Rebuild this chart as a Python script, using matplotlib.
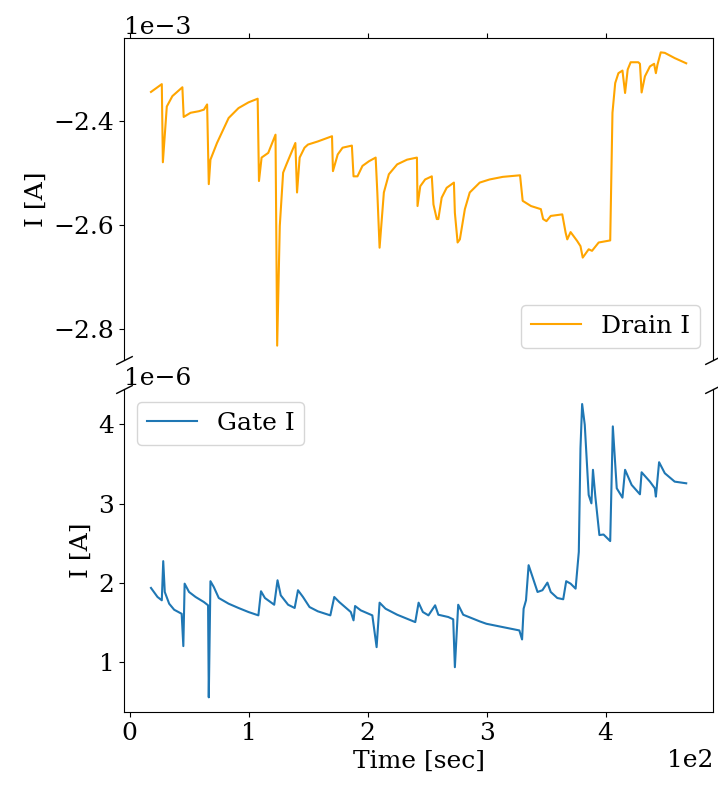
import numpy as np
import matplotlib
matplotlib.use("Agg")
from matplotlib import pyplot as plt

# drain current, in mA
drain_t = [17.8, 26.9, 27.8, 31.1, 35.8, 44.2, 45.3, 51.1, 58.1, 62.3, 65.0, 66.4, 67.8, 73.3,
           83.1, 91.4, 99.8, 107.5, 108.6, 110.8, 116.4, 122.5, 123.9, 126.1, 128.9, 131.7,
           139.2, 140.6, 142.8, 146.9, 149.8, 158.1, 170.0, 170.8, 174.8, 178.9, 186.7, 188.1,
           191.4, 195.6, 201.1, 206.7, 208.1, 210.0, 213.6, 217.8, 224.8, 233.1, 241.4, 241.9,
           244.2, 248.3, 253.9, 255.3, 258.1, 259.4, 262.2, 266.4, 272.5, 273.3, 275.6, 277.5,
           281.7, 285.8, 294.2, 302.5, 313.6, 328.1, 330.3, 337.3, 345.6, 347.5, 350.3, 353.9,
           363.6, 366.4, 367.8, 370.6, 376.1, 378.9, 380.8, 385.8, 388.6, 394.2, 403.9, 405.8,
           408.1, 410.8, 414.2, 416.4, 418.6, 421.1, 427.5, 428.9, 430.3, 433.1, 437.3, 440.8,
           442.3, 443.6, 446.4, 449.8, 458.1, 467.8]
drain_i = [-2.345, -2.330, -2.480, -2.373, -2.353, -2.336, -2.393, -2.385, -2.382, -2.379,
           -2.369, -2.522, -2.475, -2.443, -2.395, -2.376, -2.365, -2.358, -2.516, -2.471,
           -2.462, -2.427, -2.832, -2.602, -2.500, -2.484, -2.443, -2.538, -2.471, -2.452,
           -2.446, -2.440, -2.430, -2.497, -2.465, -2.452, -2.448, -2.507, -2.507, -2.487,
           -2.478, -2.471, -2.538, -2.644, -2.538, -2.503, -2.484, -2.475, -2.471, -2.564,
           -2.526, -2.513, -2.507, -2.561, -2.589, -2.589, -2.548, -2.529, -2.519, -2.577,
           -2.634, -2.628, -2.570, -2.538, -2.519, -2.513, -2.508, -2.505, -2.554, -2.564,
           -2.570, -2.589, -2.593, -2.583, -2.580, -2.615, -2.628, -2.614, -2.631, -2.641,
           -2.663, -2.647, -2.650, -2.634, -2.630, -2.385, -2.328, -2.309, -2.304, -2.347,
           -2.302, -2.288, -2.288, -2.291, -2.346, -2.315, -2.296, -2.291, -2.309, -2.293,
           -2.269, -2.270, -2.280, -2.290]

# gate current, in uA
gate_t = [17.8, 23.3, 26.9, 28.1, 29.4, 33.1, 37.3, 43.6, 45.0, 46.1, 49.8, 55.3, 62.3, 65.8,
          66.4, 67.8, 70.6, 74.8, 83.1, 91.4, 99.8, 108.1, 110.3, 113.6, 121.4, 124.2, 126.9,
          133.1, 138.6, 141.4, 145.6, 151.1, 158.1, 168.6, 171.9, 176.1, 185.8, 188.1, 189.4,
          194.2, 203.9, 207.5, 210.0, 215.0, 224.8, 240.0, 242.8, 246.4, 251.1, 256.7, 259.4,
          267.8, 271.9, 273.3, 276.1, 280.3, 294.2, 299.8, 313.6, 327.5, 329.8, 331.1, 333.1,
          335.3, 338.6, 342.8, 346.9, 351.1, 353.9, 359.4, 364.4, 366.9, 370.6, 374.8, 377.5,
          378.9, 380.3, 382.5, 385.8, 388.1, 389.4, 391.4, 394.8, 398.3, 403.9, 406.1, 409.4,
          414.2, 416.4, 421.9, 428.9, 430.3, 437.3, 441.4, 442.3, 445.0, 449.8, 458.1, 467.8]
gate_i = [1.937, 1.823, 1.781, 2.275, 1.886, 1.738, 1.662, 1.611, 1.203, 1.991, 1.886, 1.823,
          1.759, 1.718, 0.557, 2.022, 1.949, 1.810, 1.738, 1.684, 1.633, 1.591, 1.895, 1.810,
          1.725, 2.034, 1.844, 1.725, 1.684, 1.908, 1.823, 1.696, 1.642, 1.591, 1.823, 1.759,
          1.633, 1.528, 1.709, 1.654, 1.591, 1.190, 1.751, 1.675, 1.599, 1.506, 1.751, 1.633,
          1.591, 1.718, 1.599, 1.570, 1.541, 0.937, 1.725, 1.599, 1.515, 1.485, 1.443, 1.401,
          1.287, 1.675, 1.781, 2.224, 2.076, 1.886, 1.908, 2.004, 1.886, 1.810, 1.794, 2.022,
          1.991, 1.928, 2.392, 3.700, 4.257, 3.996, 3.110, 3.004, 3.427, 3.089, 2.604, 2.611,
          2.528, 3.975, 3.194, 3.076, 3.427, 3.237, 3.118, 3.396, 3.278, 3.194, 3.089, 3.523,
          3.384, 3.278, 3.257]

plt.rcParams['font.family'] = 'DejaVu Serif'
plt.rcParams['font.size'] = 18

fig, (ax1, ax2) = plt.subplots(2, 1, sharex=True, figsize=(7.18, 7.85), dpi=100)
fig.subplots_adjust(left=0.173, right=0.993, top=0.952, bottom=0.093, hspace=0.09)

ax1.plot(drain_t, np.array(drain_i) * 1e-3, color='orange', label='Drain I')
ax2.plot(gate_t, np.array(gate_i) * 1e-6, color='tab:blue', label='Gate I')

# broken axis look
ax1.spines['bottom'].set_visible(False)
ax2.spines['top'].set_visible(False)
ax1.xaxis.tick_top()
ax1.tick_params(labeltop=False)
ax2.xaxis.tick_bottom()

ax1.ticklabel_format(axis='y', style='sci', scilimits=(0, 0))
ax2.ticklabel_format(axis='both', style='sci', scilimits=(0, 0))
ax1.xaxis.get_offset_text().set_visible(False)

d = .5
kwargs = dict(marker=[(-1, -d), (1, d)], markersize=12,
              linestyle="none", color='k', mec='k', mew=1, clip_on=False)
ax1.plot([0, 1], [0, 0], transform=ax1.transAxes, **kwargs)
ax2.plot([0, 1], [1, 1], transform=ax2.transAxes, **kwargs)

ax1.set_ylabel('I [A]')
ax2.set_ylabel('I [A]')
ax2.set_xlabel('Time [sec]')
ax1.legend(loc='lower right')
ax2.legend(loc='upper left')

fig.savefig('out.png', dpi=100)
